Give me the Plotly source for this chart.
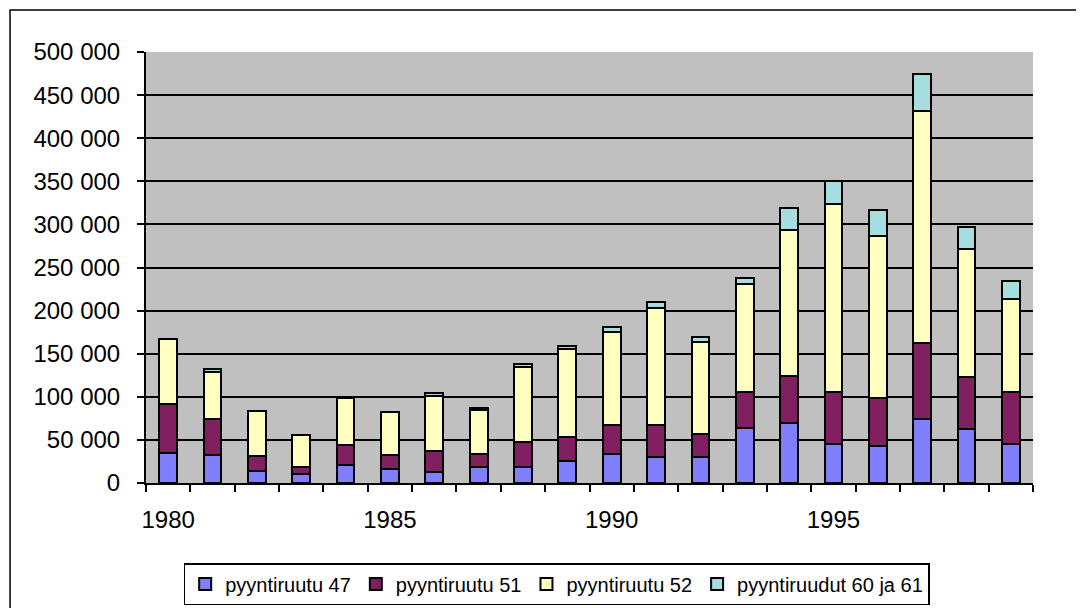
import plotly.graph_objects as go

years = list(range(1980, 2000))
ruutu_47 = [35000, 33000, 14000, 11000, 21000, 16000, 13000, 18000, 18000, 25000,
            34000, 30000, 30000, 64000, 69500, 45500, 43500, 74000, 62500, 45500]
ruutu_51 = [57000, 41000, 17000, 8000, 23000, 17000, 24000, 16000, 29000, 28000,
            33000, 37000, 27000, 42000, 55000, 60500, 55500, 88000, 60000, 60500]
ruutu_52 = [75000, 55000, 53000, 37000, 55000, 49000, 64000, 51000, 87000, 103000,
            108000, 136000, 107000, 125000, 169000, 218000, 187500, 269000, 148500, 107000]
ruudut_60_61 = [0, 3000, 0, 0, 1000, 0, 3000, 2500, 3500, 3000,
                5500, 7500, 5000, 7000, 26000, 26000, 30500, 44000, 25500, 21500]

series = [
    ("pyyntiruutu 47", ruutu_47, "#8080FF"),
    ("pyyntiruutu 51", ruutu_51, "#802060"),
    ("pyyntiruutu 52", ruutu_52, "#FFFFC0"),
    ("pyyntiruudut 60 ja 61", ruudut_60_61, "#A6DEE0"),
]

y_ticks = [0, 50000, 100000, 150000, 200000, 250000, 300000, 350000, 400000, 450000, 500000]
x_labels = [1980, 1985, 1990, 1995]

fig = go.Figure()
for name, vals, color in series:
    fig.add_trace(go.Bar(
        x=years, y=vals, name=name, width=0.4,
        marker=dict(color=color, line=dict(color="black", width=2)),
    ))

# page body adds an 8px offset, so margins are shifted to compensate
fig.update_layout(
    barmode="stack",
    width=1084, height=608,
    paper_bgcolor="white",
    plot_bgcolor="#C0C0C0",
    font=dict(family="Liberation Sans, Arial, sans-serif", size=24, color="black"),
    separators=". ",
    margin=dict(l=138, r=59, t=44, b=132),
    showlegend=True,
    legend=dict(
        orientation="h", x=0.463, xanchor="center", y=-0.183, yanchor="top",
        bordercolor="black", borderwidth=1.5, font=dict(size=20),
        traceorder="normal",
    ),
    xaxis=dict(
        range=[1979.5, 1999.5], tickvals=x_labels, ticks="", showgrid=False,
        showline=True, linecolor="black", linewidth=2, ticklabelstandoff=14,
        minor=dict(tick0=0.5, dtick=1, ticks="outside", ticklen=7, tickcolor="black",
                   tickwidth=2, showgrid=False),
        zeroline=False,
    ),
    yaxis=dict(
        range=[0, 500000], tickvals=y_ticks, tickformat=",d",
        ticks="outside", ticklen=7, tickcolor="black", tickwidth=2, ticklabelstandoff=12,
        showgrid=True, gridcolor="black", gridwidth=1.5,
        showline=True, linecolor="black", linewidth=2, zeroline=False,
    ),
    shapes=[
        dict(type="rect", xref="paper", yref="paper", x0=-0.1533, x1=1.0541, y0=-0.32, y1=1.0972,
             line=dict(color="black", width=1.5), fillcolor="rgba(0,0,0,0)"),
    ],
)

fig.write_html("out.html")
